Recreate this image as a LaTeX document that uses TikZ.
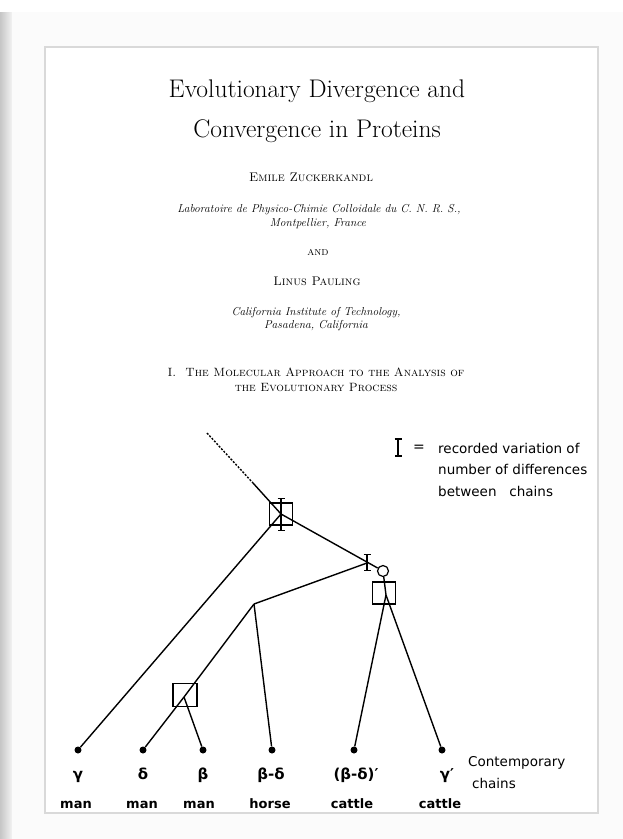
\documentclass[tikz,border=0pt]{standalone}
\usepackage{fontspec}
\newfontfamily\lettering{DejaVu Sans}
\usetikzlibrary{arrows.meta}

\tikzset{
  branch/.style={line width=1.4pt},
  box/.style={draw, line width=1.2pt, minimum width=23pt, minimum height=22pt, inner sep=0pt},
  leaf/.style={circle, fill=black, inner sep=0pt, minimum size=7pt},
  errbar/.style={line width=1.2pt, {Bar[width=7pt]}-{Bar[width=7pt]}},
  chainlbl/.style={anchor=base, inner sep=0pt, font=\lettering\bfseries\fontsize{13}{16}\selectfont},
  greeklbl/.style={anchor=base, inner sep=0pt, font=\lettering\bfseries\fontsize{15}{16}\selectfont},
  legendtxt/.style={anchor=base west, inner sep=0pt, font=\lettering\fontsize{13.5}{16}\selectfont},
  head/.style={anchor=base, inner sep=0pt},
}

\begin{document}
\begin{tikzpicture}[x=1pt, y=-1pt]
    \useasboundingbox (0,0) rectangle (623,839);

    % page, shadow and frame
    \fill[white] (0,0) rectangle (623,839);
    \shade[left color=gray!45, right color=gray!10] (0,12) rectangle (12,839);
    \fill[gray!3] (12,12) rectangle (623,839);
    \draw[gray!30, line width=1.2pt, fill=white] (45,47) rectangle (598,813);

    % heading
    \node[head, font=\fontsize{25.5}{30}\selectfont] (title1) at (317,97) {Evolutionary Divergence and};
    \node[head, font=\fontsize{25.5}{30}\selectfont] (title2) at (317,137) {Convergence in Proteins};

    \node[head, font=\fontsize{12.5}{14}\selectfont\scshape] (auth1) at (311,181) {Emile Zuckerkandl};
    \node[head, font=\fontsize{11.5}{14}\selectfont\itshape] (lab1) at (319,212) {Laboratoire de Physico-Chimie Colloidale du C. N. R. S.,};
    \node[head, font=\fontsize{11.5}{14}\selectfont\itshape] (lab2) at (318,226) {Montpellier, France};

    \node[head, font=\fontsize{11.5}{14}\selectfont\scshape] (and) at (318,255) {and};

    \node[head, font=\fontsize{12.5}{14}\selectfont\scshape] (auth2) at (317,285) {Linus Pauling};
    \node[head, font=\fontsize{11.5}{14}\selectfont\itshape] (cal1) at (316,315) {California Institute of Technology,};
    \node[head, font=\fontsize{11.5}{14}\selectfont\itshape] (cal2) at (316,328) {Pasadena, California};

    \node[head, font=\fontsize{12}{14}\selectfont\scshape] (sect1) at (316,376) {I.\ \ The Molecular Approach to the Analysis of};
    \node[head, font=\fontsize{12}{14}\selectfont\scshape] (sect2) at (316,391) {the Evolutionary Process};

    % tree points
    \coordinate (top) at (207,433);
    \coordinate (dend) at (253,483);
    \coordinate (root) at (281,514);
    \coordinate (ab) at (367,563);
    \coordinate (lj) at (254,604);
    \coordinate (cpt) at (386,595);
    \coordinate (mpt) at (184,697);

    \node[box] (boxroot) at (281,514) {};
    \node[box] (boxc) at (384,593) {};
    \node[box, minimum width=24pt, minimum height=23pt] (boxm) at (185,695) {};
    \node[draw, circle, line width=1.2pt, minimum size=11pt, inner sep=0pt] (circ) at (383,571) {};

    % leaves
    \node[leaf] (gman) at (78,750) {};
    \node[leaf] (dman) at (143,750) {};
    \node[leaf] (bman) at (203,750) {};
    \node[leaf] (bdhorse) at (272,750) {};
    \node[leaf] (bdcattle) at (354,750) {};
    \node[leaf] (gcattle) at (442,750) {};

    % branches
    \draw[branch, dash pattern=on 2pt off 1.5pt] (top) -- (dend);
    \draw[branch] (dend) -- (root);
    \draw[branch] (root) -- (gman);
    \draw[branch] (root) -- (circ);
    \draw[branch] (lj) -- (ab);
    \draw[branch] (lj) -- (mpt);
    \draw[branch] (lj) -- (bdhorse);
    \draw[branch] (mpt) -- (dman);
    \draw[branch] (mpt) -- (bman);
    \draw[branch] (circ) -- (cpt);
    \draw[branch] (cpt) -- (bdcattle);
    \draw[branch] (cpt) -- (gcattle);

    % variation bars
    \draw[errbar] ([yshift=16pt]root) -- ([yshift=-17pt]root);
    \draw[errbar] ([yshift=9pt]ab) -- ([yshift=-8pt]ab);

    % legend
    \draw[errbar, line width=2pt] (398,438) -- (398,457);
    \node[inner sep=0pt, font=\lettering\fontsize{14}{16}\selectfont] (eq) at (419,448) {=};
    \node[legendtxt] (leg1) at (438,453) {recorded variation of};
    \node[legendtxt] (leg2) at (438,474) {number of differences};
    \node[legendtxt] (leg3) at (438,496) {between\ \ \ chains};

    % labels
    \node[greeklbl] (lg) at (78,779) {γ};
    \node[greeklbl] (ld) at (143,779) {δ};
    \node[greeklbl] (lb) at (203,779) {β};
    \node[greeklbl] (lbd) at (271,779) {β-δ};
    \node[greeklbl] (lbdp) at (356,779) {(β-δ)′};
    \node[greeklbl] (lgp) at (447,779) {γ′};

    \node[chainlbl] (s1) at (76,808) {man};
    \node[chainlbl] (s2) at (142,808) {man};
    \node[chainlbl] (s3) at (199,808) {man};
    \node[chainlbl] (s4) at (270,808) {horse};
    \node[chainlbl] (s5) at (352,808) {cattle};
    \node[chainlbl] (s6) at (440,808) {cattle};

    \node[legendtxt] (cont) at (468,766) {Contemporary};
    \node[legendtxt] (chn) at (472,788) {chains};
\end{tikzpicture}
\end{document}
